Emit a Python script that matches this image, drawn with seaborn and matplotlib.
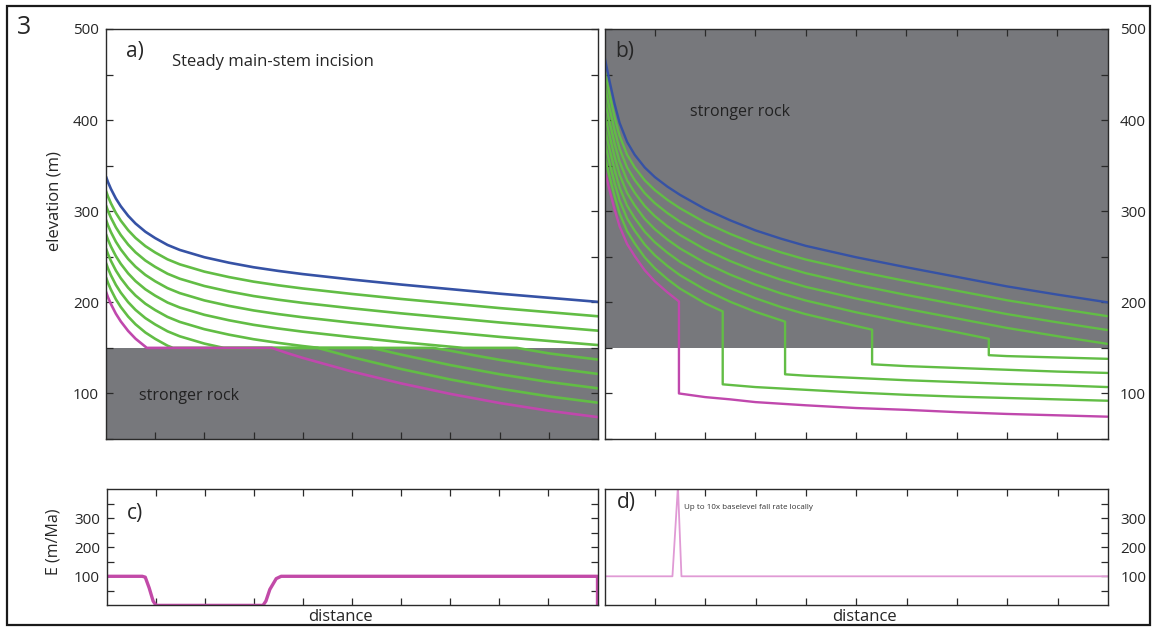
import numpy as np
import pandas as pd
import seaborn as sns
import matplotlib.pyplot as plt
from matplotlib.patches import Rectangle

# distance along the main stem (normalised 0..1)
dist_grid = [0, 0.004, 0.01, 0.02, 0.03, 0.045, 0.06, 0.08, 0.1, 0.125, 0.15,
             0.2, 0.25, 0.3, 0.35, 0.4, 0.5, 0.6, 0.7, 0.8, 0.9, 1.0]

# panel a) - weak rock above 150 m, stronger rock below
a_blue = [338, 332, 324.5, 314, 305.5, 295, 286.5, 277.5, 270.5, 263, 257.5,
          249.5, 243.5, 238.5, 234.5, 231, 225, 219.5, 214.5, 209.5, 205, 200.5]
a_green1 = [322.2, 316.2, 308.7, 298.2, 289.7, 279.2, 270.7, 261.7, 254.7, 247.2, 241.7,
            233.7, 227.7, 222.7, 218.7, 215.2, 209.2, 203.7, 198.7, 193.7, 189.2, 184.7]
a_green2 = [306.4, 300.4, 292.9, 282.4, 273.9, 263.4, 254.9, 245.9, 238.9, 231.4, 225.9,
            217.9, 211.9, 206.9, 202.9, 199.4, 193.4, 187.9, 182.9, 177.9, 173.4, 168.9]
a_green3 = [290.6, 284.6, 277.1, 266.6, 258.1, 247.6, 239.1, 230.1, 223.1, 215.6, 210.1,
            202.1, 196.1, 191.1, 187.1, 183.6, 177.6, 172.1, 167.1, 162.1, 157.6, 153.1]
a_green4_x = [0, 0.004, 0.01, 0.02, 0.03, 0.045, 0.06, 0.08, 0.1, 0.125, 0.15,
              0.2, 0.25, 0.3, 0.35, 0.4, 0.5, 0.6, 0.7, 0.726, 0.835, 0.9, 0.95, 1.0]
a_green4 = [274.8, 268.8, 261.3, 250.8, 242.3, 231.8, 223.3, 214.3, 207.3, 199.8, 194.3,
            186.3, 180.3, 175.3, 171.3, 167.8, 161.8, 156.3, 151.3, 150, 150, 144, 140.5, 137.2]
a_green5_x = [0, 0.004, 0.01, 0.02, 0.03, 0.045, 0.06, 0.08, 0.1, 0.125, 0.15,
              0.2, 0.25, 0.3, 0.35, 0.4, 0.433, 0.665, 0.7, 0.75, 0.8, 0.9, 1.0]
a_green5 = [259, 253, 245.5, 235, 226.5, 216, 207.5, 198.5, 191.5, 184, 178.5,
            170.5, 164.5, 159.5, 155.5, 152, 150, 150, 146.9, 141.7, 136.9, 128.4, 121.4]
a_green6_x = [0, 0.004, 0.01, 0.02, 0.03, 0.045, 0.06, 0.08, 0.1, 0.125, 0.15,
              0.2, 0.239, 0.54, 0.56, 0.6, 0.7, 0.8, 0.9, 1.0]
a_green6 = [243.2, 237.2, 229.7, 219.2, 210.7, 200.2, 191.7, 182.7, 175.7, 168.2, 162.7,
            154.7, 150, 150, 147.6, 142.6, 131.1, 121.1, 112.6, 105.6]
a_green7_x = [0, 0.004, 0.01, 0.02, 0.03, 0.045, 0.06, 0.08, 0.1, 0.125, 0.136,
              0.43, 0.5, 0.6, 0.7, 0.8, 0.9, 1.0]
a_green7 = [227.4, 221.4, 213.9, 203.4, 194.9, 184.4, 175.9, 166.9, 159.9, 152.4, 150,
            150, 139.8, 126.8, 115.3, 105.3, 96.8, 89.8]
a_magenta_x = [0, 0.004, 0.01, 0.02, 0.03, 0.045, 0.06, 0.083,
               0.337, 0.37, 0.4, 0.5, 0.6, 0.7, 0.8, 0.9, 1.0]
a_magenta = [211.6, 205.6, 198.1, 187.6, 179.1, 168.6, 160.1, 150,
             150, 144, 139, 124, 111, 99.5, 89.5, 81, 74]

# panel b) - stronger rock above 150 m, vertical knickpoints into weak rock
b_blue = [470, 459, 443, 418, 397, 376, 362, 348, 337.5, 327, 318,
          302.5, 290, 279, 270, 262, 249.5, 238.5, 228, 217.5, 208.5, 200]
b_green1 = [454.4, 443.7, 428, 403.5, 382.8, 362, 348.1, 333.9, 323.2, 312.5, 303.3,
            287.7, 275.1, 264.1, 255, 247, 234.4, 223.3, 212.8, 202.3, 193.3, 184.8]
b_green2 = [438.8, 428.4, 413, 389, 368.6, 348, 334.2, 319.8, 308.9, 298, 288.6,
            272.9, 260.2, 249.2, 240, 232, 219.3, 208.1, 197.6, 187.1, 178.1, 169.6]
b_green3 = [423.2, 413.1, 398, 374.5, 354.4, 334, 320.3, 305.7, 294.6, 283.5, 273.9,
            258.1, 245.3, 234.3, 225, 217, 204.2, 192.9, 182.4, 171.9, 162.9, 154.4]
b_green4_x = [0, 0.004, 0.01, 0.02, 0.03, 0.045, 0.06, 0.08, 0.1, 0.125, 0.15,
              0.2, 0.25, 0.3, 0.35, 0.4, 0.5, 0.6, 0.7, 0.764, 0.764, 0.8, 0.9, 1.0]
b_green4 = [407.6, 397.8, 383, 360, 340.2, 320, 306.4, 291.6, 280.3, 269, 259.2,
            243.3, 230.4, 219.4, 210, 202, 189.1, 177.7, 167.2, 160, 142, 141, 139.5, 138]
b_green5_x = [0, 0.004, 0.01, 0.02, 0.03, 0.045, 0.06, 0.08, 0.1, 0.125, 0.15,
              0.2, 0.25, 0.3, 0.35, 0.4, 0.5, 0.532, 0.532, 0.6, 0.7, 0.8, 0.9, 1.0]
b_green5 = [392, 382.5, 368, 345.5, 326, 306, 292.5, 277.5, 266, 254.5, 244.5,
            228.5, 215.5, 204.5, 195, 187, 174, 170, 132, 130, 128, 126, 124, 122.5]
b_green6_x = [0, 0.004, 0.01, 0.02, 0.03, 0.045, 0.06, 0.08, 0.1, 0.125, 0.15,
              0.2, 0.25, 0.3, 0.359, 0.359, 0.4, 0.5, 0.6, 0.7, 0.8, 0.9, 1.0]
b_green6 = [376.4, 367.2, 353, 331, 311.8, 292, 278.6, 263.4, 251.7, 240, 229.8,
            213.7, 200.6, 189.6, 178.8, 121, 119.5, 117, 114.5, 112.5, 110.5, 109, 107]
b_green7_x = [0, 0.004, 0.01, 0.02, 0.03, 0.045, 0.06, 0.08, 0.1, 0.125, 0.15,
              0.2, 0.235, 0.235, 0.3, 0.4, 0.5, 0.6, 0.7, 0.8, 0.9, 1.0]
b_green7 = [360.8, 351.9, 338, 316.5, 297.6, 278, 264.7, 249.3, 237.4, 225.5, 215.1,
            198.9, 190, 110, 107, 104, 101, 98.5, 96.5, 95, 93.5, 92]
b_magenta_x = [0, 0.004, 0.01, 0.02, 0.03, 0.045, 0.06, 0.08, 0.1, 0.125, 0.148, 0.148,
               0.2, 0.25, 0.3, 0.4, 0.5, 0.6, 0.7, 0.8, 0.9, 1.0]
b_magenta = [345.2, 336.6, 323, 302, 283.4, 264, 250.8, 235.2, 223.1, 211, 201, 100,
             96, 93.5, 90.5, 87, 84, 82, 79.5, 77.5, 76, 74.5]

# panels c) and d) - erosion rate E (m/Ma)
c_x = [0, 0.072, 0.078, 0.086, 0.094, 0.1, 0.318, 0.324, 0.332, 0.345, 0.355, 1.0, 1.0]
c_rate = [100, 100, 97, 60, 15, 0, 0, 15, 55, 92, 100, 100, 0]
d_x = [0, 0.1346, 0.1455, 0.1525, 1.0]
d_rate = [100, 100, 410, 100, 100]

rock_gray = '#77787c'
blue = '#3652a5'
green = '#62bd45'
magenta = '#c048ad'

sns.set_style('ticks')
plt.rcParams['font.family'] = ['Open Sans', 'DejaVu Sans']
plt.rcParams['xtick.direction'] = 'in'
plt.rcParams['ytick.direction'] = 'in'


def profile_frame(curves):
    rows = []
    for name, xs, zs in curves:
        for x, z in zip(xs, zs):
            rows.append({'line': name, 'distance': x, 'elevation': z})
    return pd.DataFrame(rows)


def line_colors(df):
    pal = {}
    for name in df['line'].unique():
        if name.startswith('blue'):
            pal[name] = blue
        elif name.startswith('green'):
            pal[name] = green
        else:
            pal[name] = magenta
    return pal


df_a = profile_frame([
    ('blue', dist_grid, a_blue), ('green1', dist_grid, a_green1),
    ('green2', dist_grid, a_green2), ('green3', dist_grid, a_green3),
    ('green4', a_green4_x, a_green4), ('green5', a_green5_x, a_green5),
    ('green6', a_green6_x, a_green6), ('green7', a_green7_x, a_green7),
    ('magenta', a_magenta_x, a_magenta)])
df_b = profile_frame([
    ('blue', dist_grid, b_blue), ('green1', dist_grid, b_green1),
    ('green2', dist_grid, b_green2), ('green3', dist_grid, b_green3),
    ('green4', b_green4_x, b_green4), ('green5', b_green5_x, b_green5),
    ('green6', b_green6_x, b_green6), ('green7', b_green7_x, b_green7),
    ('magenta', b_magenta_x, b_magenta)])
df_c = pd.DataFrame({'distance': c_x, 'E': c_rate})
df_d = pd.DataFrame({'distance': d_x, 'E': d_rate})

W, H = 1156, 628
fig = plt.figure(figsize=(W / 100, H / 100), dpi=100)
ax_a = fig.add_axes([106 / W, 1 - 439 / H, 492 / W, 410 / H])
ax_b = fig.add_axes([604.5 / W, 1 - 439 / H, 503 / W, 410 / H])
ax_c = fig.add_axes([107 / W, 1 - 605.4 / H, 490.5 / W, 116.4 / H])
ax_d = fig.add_axes([604.7 / W, 1 - 605.4 / H, 503.3 / W, 116.4 / H])

ax_a.axhspan(50, 150, color=rock_gray, lw=0, zorder=0)
ax_b.axhspan(150, 500, color=rock_gray, lw=0, zorder=0)

sns.lineplot(data=df_a, x='distance', y='elevation', hue='line', palette=line_colors(df_a),
             estimator=None, sort=False, legend=False, lw=1.9, ax=ax_a)
sns.lineplot(data=df_b, x='distance', y='elevation', hue='line', palette=line_colors(df_b),
             estimator=None, sort=False, legend=False, lw=1.7, ax=ax_b)
sns.lineplot(data=df_c, x='distance', y='E', estimator=None, sort=False,
             color='#c24aa8', lw=2.4, ax=ax_c)
sns.lineplot(data=df_d, x='distance', y='E', estimator=None, sort=False,
             color='#e09ad5', lw=1.3, ax=ax_d)

xt = [i / 10 for i in range(1, 10)]
for ax in (ax_a, ax_b):
    ax.set_xlim(0, 1)
    ax.set_ylim(50, 500)
    yt = list(range(50, 501, 50))
    ax.set_yticks(yt)
    ax.set_yticklabels([str(v) if v % 100 == 0 else '' for v in yt])
for ax in (ax_c, ax_d):
    ax.set_xlim(0, 1)
    ax.set_ylim(0, 400)
    yt = list(range(50, 351, 50))
    ax.set_yticks(yt)
    ax.set_yticklabels([str(v) if v % 100 == 0 else '' for v in yt])

for ax in (ax_a, ax_b, ax_c, ax_d):
    ax.set_xticks(xt)
    ax.set(xlabel='', ylabel='')
    for s in ax.spines.values():
        s.set_visible(True)
        s.set_color('#2a2a2a')
        s.set_linewidth(1.0)
    ax.tick_params(length=5, width=0.9, color='#2a2a2a', labelsize=11, pad=5,
                   labelbottom=False)

ax_a.tick_params(axis='y', left=True, right=True)
ax_b.tick_params(axis='x', top=True)
ax_b.tick_params(axis='y', left=True, right=True, labelleft=False, labelright=True, pad=9)
ax_c.tick_params(axis='x', top=True)
ax_c.tick_params(axis='y', left=True, right=True)
ax_d.tick_params(axis='x', top=True)
ax_d.tick_params(axis='y', left=False, right=True, labelleft=False, labelright=True, pad=9)

ax_a.set_ylabel('elevation (m)', fontsize=12)
ax_a.yaxis.set_label_coords(-0.088, 0.58)
ax_c.set_ylabel('E (m/Ma)', fontsize=11.5)
ax_c.yaxis.set_label_coords(-0.092, 0.55)
ax_c.set_xlabel('distance', fontsize=12)
ax_c.xaxis.set_label_coords(0.475, -0.03)
ax_d.set_xlabel('distance', fontsize=12)
ax_d.xaxis.set_label_coords(0.517, -0.03)

ax_a.text(0.04, 0.944, 'a)', transform=ax_a.transAxes, fontsize=15, va='center')
ax_a.text(0.134, 0.92, 'Steady main-stem incision', transform=ax_a.transAxes,
          fontsize=12, va='center')
ax_a.text(0.068, 0.105, 'stronger rock', transform=ax_a.transAxes, fontsize=11.5,
          va='center', color='#222222')
ax_b.text(0.022, 0.946, 'b)', transform=ax_b.transAxes, fontsize=15, va='center')
ax_b.text(0.17, 0.798, 'stronger rock', transform=ax_b.transAxes, fontsize=11.5,
          va='center', color='#222222')
ax_c.text(0.04, 0.79, 'c)', transform=ax_c.transAxes, fontsize=15, va='center')
ax_d.text(0.024, 0.88, 'd)', transform=ax_d.transAxes, fontsize=15, va='center')
ax_d.text(0.158, 0.84, 'Up to 10x baselevel fall rate locally', transform=ax_d.transAxes,
          fontsize=5.8, va='center', color='#333333')

fig.text(17 / W, 1 - 15 / H, '3', fontsize=18, va='top', ha='left')
fig.add_artist(Rectangle((7 / W, 3 / H), 1143 / W, 619 / H, transform=fig.transFigure,
                         fill=False, ec='#1a1a1a', lw=1.6))

fig.savefig('out.png', dpi=100)
